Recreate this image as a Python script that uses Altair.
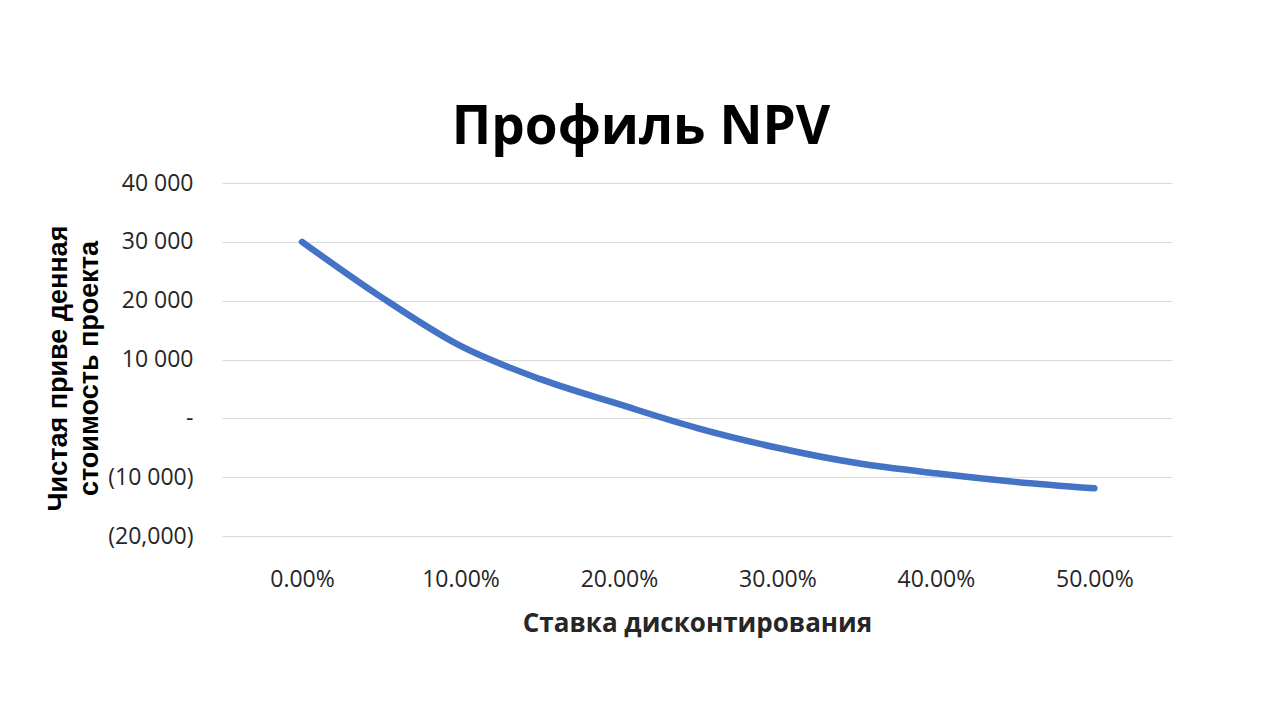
import altair as alt
import pandas as pd

# discount rate vs NPV
rates = [0.0, 0.05, 0.10, 0.15, 0.20, 0.25, 0.30, 0.35, 0.40, 0.45, 0.50]
npv = [30000, 20600, 12300, 6700, 2400, -1700, -5000, -7600, -9350, -10800, -11900]

x_ticks = [0.0, 0.1, 0.2, 0.3, 0.4, 0.5]
y_ticks = [40000, 30000, 20000, 10000, 0, -10000, -20000]
y_tick_labels = ["40 000", "30 000", "20 000", "10 000", "-\u00a0\u00a0\u00a0", "(10 000)", "(20,000)"]

df = pd.DataFrame({"rate": rates, "npv": npv})

# nested ternary so the y labels come out as in the accounting format
label_expr = "''"
for v, lab in reversed(list(zip(y_ticks, y_tick_labels))):
    label_expr = f"datum.value == {v} ? '{lab}' : ({label_expr})"

chart = alt.Chart(df).mark_line(
    color="#4472C4", strokeWidth=6.5, strokeCap="round", interpolate="monotone"
).encode(
    x=alt.X(
        "rate:Q",
        scale=alt.Scale(domain=[-0.0505, 0.549], nice=False, zero=False),
        axis=alt.Axis(
            values=x_ticks, format=".2%", grid=False, domain=False, ticks=False,
            labelFont="Open Sans", labelFontSize=23, labelColor="#262626",
            labelPadding=32, title="Ставка дисконтирования",
            titleFont="Open Sans", titleFontSize=26, titleFontWeight="bold",
            titleColor="#262626", titlePadding=19,
        ),
    ),
    y=alt.Y(
        "npv:Q",
        scale=alt.Scale(domain=[-20000, 40000], nice=False),
        axis=alt.Axis(
            values=y_ticks, labelExpr=label_expr, grid=True, gridColor="#d9d9d9",
            gridWidth=1, domain=False, ticks=False,
            labelFont="Open Sans", labelFontSize=23, labelColor="#262626",
            labelPadding=29,
            title=["Чистая приве денная", "стоимость проекта"],
            titleFont="Liberation Sans", titleFontSize=27, titleFontWeight="bold",
            titleColor="#000000", titleAngle=-90, titleAlign="center",
            titleBaseline="alphabetic", titleX=-156, titleY=185, titleLineHeight=31,
        ),
    ),
).properties(
    width=950,
    height=353,
    autosize=alt.AutoSizeParams(type="none"),
    padding={"left": 214, "top": 175, "right": 100, "bottom": 176},
    title=alt.Title(
        "Профиль NPV", font="Open Sans", fontSize=53, fontWeight="bold",
        color="#000000", anchor="middle", frame="group", dx=-56, dy=65, offset=40,
        baseline="alphabetic",
    ),
).configure_view(stroke=None)

chart.save("out.html", embed_options={"renderer": "svg", "actions": False})
